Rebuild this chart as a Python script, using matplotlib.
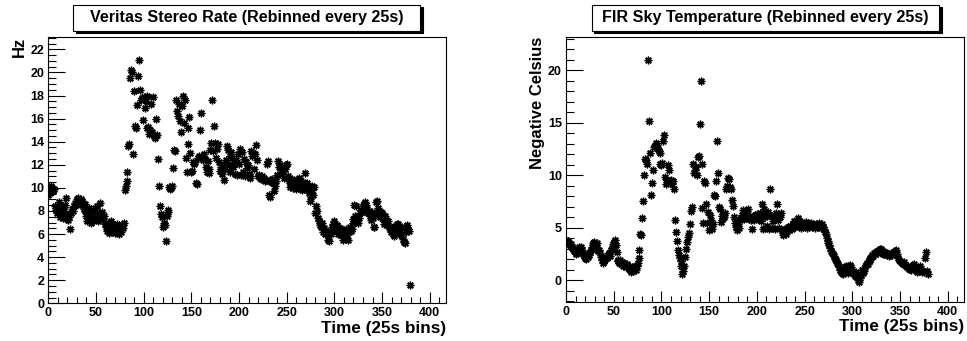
import numpy as np
import matplotlib
matplotlib.use("Agg")
import matplotlib.pyplot as plt
from matplotlib.patches import Rectangle
from matplotlib.ticker import MultipleLocator

plt.rcParams['font.family'] = ['Liberation Sans', 'DejaVu Sans']
plt.rcParams['font.weight'] = 'bold'

# Time bins (25 s each)
time_bins = np.arange(380)

# VERITAS stereo trigger rate per bin (Hz)
stereo_rate = [
    9.4, 9.8, 9.6, 10.2, 10.0, 9.7, 9.9, 8.4, 8.1, 7.8,
    8.2, 8.8, 7.5, 7.9, 8.3, 7.4, 8.0, 8.5, 7.7, 9.1,
    7.3, 7.2, 7.5, 6.4, 7.8, 8.2, 8.0, 8.4, 8.7, 8.5,
    9.0, 9.1, 8.8, 8.6, 9.0, 8.9, 8.5, 8.2, 8.6, 8.0,
    7.6, 7.1, 7.8, 8.3, 7.4, 7.0, 7.9, 8.1, 7.2, 8.3,
    7.5, 8.4, 7.1, 7.8, 8.7, 7.6, 7.9, 7.3, 7.6, 6.9,
    7.0, 6.6, 6.3, 6.9, 6.1, 6.5, 7.1, 6.2, 6.4, 6.8,
    6.1, 6.5, 6.9, 6.3, 6.0, 6.6, 6.2, 6.8, 6.5, 7.0,
    9.8, 10.2, 10.6, 11.4, 13.6, 13.8, 19.5, 20.2, 20.0, 12.9,
    18.4, 15.4, 15.2, 17.2, 19.7, 21.1, 18.5, 17.6, 17.8, 15.9,
    17.9, 16.9, 17.5, 18.0, 15.2, 15.3, 14.7, 15.0, 17.3, 14.8,
    17.9, 14.5, 14.3, 16.0, 14.6, 12.5, 10.2, 8.4, 7.7, 7.5,
    6.6, 7.0, 6.8, 5.4, 7.6, 7.9, 8.1, 10.1, 9.9, 10.0,
    10.2, 11.7, 13.3, 13.2, 17.6, 16.7, 16.2, 17.3, 15.8, 14.8,
    17.1, 18.0, 15.6, 17.6, 12.6, 11.4, 13.8, 15.2, 16.1, 13.0,
    11.4, 11.5, 12.2, 12.1, 12.2, 10.4, 10.3, 12.6, 12.8, 15.0,
    16.5, 12.7, 12.4, 12.9, 12.5, 11.8, 11.4, 12.3, 11.6, 11.3,
    13.3, 13.9, 17.6, 13.2, 15.4, 13.9, 12.6, 13.4, 13.8, 12.2,
    11.5, 11.8, 11.2, 12.0, 10.7, 11.6, 12.4, 13.6, 13.3, 12.0,
    12.8, 11.4, 13.1, 12.6, 11.8, 12.2, 11.2, 12.4, 11.1, 12.9,
    12.1, 13.4, 11.1, 13.1, 11.4, 12.5, 11.0, 12.2, 11.7, 12.0,
    11.2, 11.0, 10.9, 13.2, 12.8, 13.0, 11.6, 12.9, 13.7, 12.4,
    11.0, 11.1, 10.9, 10.8, 11.0, 10.8, 10.9, 10.6, 10.7, 12.1,
    12.3, 9.4, 9.2, 10.7, 10.5, 10.8, 10.4, 9.7, 10.2, 10.6,
    11.1, 12.3, 11.8, 12.0, 11.4, 11.2, 11.5, 10.9, 11.6, 12.0,
    12.1, 11.0, 10.6, 10.1, 10.4, 10.2, 10.8, 10.0, 10.5, 10.3,
    9.9, 10.2, 10.7, 10.9, 10.7, 10.1, 9.8, 10.5, 10.3, 11.3,
    10.0, 10.4, 9.9, 9.6, 8.9, 9.2, 10.2, 9.8, 9.4, 10.1,
    7.8, 8.4, 8.0, 7.4, 7.1, 6.8, 6.6, 7.0, 6.2, 6.5,
    6.0, 6.3, 6.1, 5.5, 5.4, 6.2, 6.0, 6.6, 6.9, 6.4,
    7.1, 6.5, 6.3, 6.8, 6.0, 6.2, 6.5, 5.9, 6.3, 5.5,
    6.1, 5.8, 6.4, 6.0, 5.5, 6.2, 6.6, 6.3, 6.4, 7.0,
    7.3, 8.5, 7.6, 8.4, 7.2, 7.0, 7.4, 7.8, 8.1, 7.9,
    8.4, 8.6, 8.8, 8.5, 8.2, 7.8, 8.0, 7.6, 7.2, 7.9,
    7.4, 6.6, 6.6, 7.7, 8.8, 8.9, 8.3, 7.8, 7.5, 7.9,
    7.8, 7.3, 6.9, 7.6, 7.2, 6.8, 7.1, 6.6, 6.4, 6.2,
    6.5, 6.0, 5.8, 6.2, 6.7, 6.4, 6.9, 6.9, 6.3, 6.0,
    5.9, 6.6, 5.6, 5.3, 5.2, 6.2, 6.8, 6.4, 6.3, 1.6,
]

# FIR sky temperature per bin (negative degrees Celsius)
sky_temp = [
    3.8, 3.6, 3.7, 3.5, 3.3, 3.4, 3.1, 3.0, 2.8, 3.0,
    2.6, 2.5, 2.8, 2.7, 3.2, 3.1, 3.2, 2.9, 2.5, 2.3,
    2.1, 2.0, 2.5, 2.2, 2.4, 2.7, 2.9, 3.2, 3.5, 3.6,
    3.4, 3.3, 3.5, 3.0, 2.8, 2.9, 2.6, 2.2, 1.9, 1.6,
    1.8, 2.0, 2.2, 2.1, 2.4, 2.6, 2.3, 2.9, 3.1, 3.4,
    3.6, 3.8, 3.3, 2.7, 1.9, 1.8, 1.6, 1.9, 1.5, 1.7,
    1.3, 1.6, 1.4, 1.2, 1.5, 1.3, 1.1, 1.0, 0.8, 1.2,
    0.9, 1.1, 1.3, 1.0, 1.3, 1.6, 2.1, 2.9, 4.4, 4.3,
    5.9, 7.5, 10.0, 11.5, 11.4, 11.1, 21.0, 15.2, 12.1, 8.1,
    9.3, 10.5, 12.7, 12.8, 13.1, 12.9, 12.5, 12.3, 12.1, 11.1,
    11.0, 11.2, 13.3, 13.8, 9.8, 9.2, 9.5, 11.0, 10.5, 9.4,
    9.5, 9.2, 9.4, 8.7, 5.7, 4.6, 3.7, 2.9, 2.4, 2.1,
    1.8, 1.3, 0.6, 0.9, 1.3, 2.2, 3.0, 3.6, 4.1, 4.5,
    5.3, 6.6, 7.0, 11.1, 10.2, 10.5, 10.8, 10.0, 11.7, 11.8,
    14.9, 19.0, 11.1, 6.9, 5.4, 9.4, 9.3, 7.3, 5.4, 6.5,
    4.8, 6.2, 5.7, 4.9, 5.3, 8.1, 8.0, 9.4, 13.3, 10.2,
    7.0, 6.8, 5.5, 6.1, 6.3, 5.9, 6.0, 6.4, 8.7, 9.0,
    9.7, 9.6, 8.9, 8.7, 7.6, 7.1, 6.0, 5.4, 5.1, 4.8,
    5.3, 5.0, 5.7, 5.9, 6.2, 6.7, 6.5, 5.8, 6.6, 5.9,
    6.3, 6.8, 5.8, 6.1, 5.7, 4.9, 6.0, 5.7, 6.2, 5.9,
    6.3, 5.8, 6.1, 6.4, 5.6, 7.3, 4.9, 6.8, 6.0, 5.0,
    6.3, 5.2, 6.5, 4.9, 8.7, 6.1, 5.0, 5.6, 6.0, 4.9,
    6.4, 7.3, 5.7, 5.0, 6.0, 6.4, 4.7, 4.3, 4.5, 4.9,
    4.4, 4.7, 5.0, 5.1, 4.8, 5.2, 5.0, 4.9, 5.3, 5.6,
    5.1, 5.4, 5.2, 5.9, 5.6, 5.3, 5.0, 5.5, 5.2, 5.3,
    5.2, 5.5, 5.0, 5.2, 5.4, 5.1, 5.3, 5.4, 5.1, 5.3,
    5.2, 5.0, 5.3, 5.2, 5.1, 5.4, 5.2, 5.0, 5.3, 5.1,
    4.9, 4.6, 4.4, 4.0, 3.7, 3.5, 3.3, 3.1, 2.8, 2.6,
    2.5, 2.3, 2.0, 1.9, 1.6, 1.5, 1.2, 1.0, 0.8, 0.7,
    0.6, 0.9, 1.2, 1.3, 1.0, 0.7, 1.1, 1.3, 1.4, 1.2,
    0.9, 0.8, 0.6, 0.4, 0.8, 0.3, 0.0, -0.15, 0.2, 0.5,
    0.95, 0.7, 0.9, 1.2, 1.4, 1.6, 1.5, 1.8, 1.9, 2.1,
    2.2, 2.4, 2.3, 2.6, 2.5, 2.7, 2.8, 2.6, 2.9, 3.0,
    3.0, 2.8, 2.5, 2.5, 2.7, 2.6, 2.4, 2.5, 2.3, 2.4,
    2.6, 2.5, 2.4, 2.6, 2.7, 2.8, 2.9, 2.5, 2.1, 1.9,
    1.8, 1.7, 1.6, 1.5, 1.7, 1.4, 1.3, 1.2, 1.3, 1.1,
    1.1, 1.0, 1.3, 1.2, 1.4, 1.5, 1.2, 1.0, 0.8, 0.9,
    1.1, 1.3, 1.0, 0.8, 0.9, 0.8, 2.1, 2.7, 0.9, 0.6,
]

titles = ["Veritas Stereo Rate (Rebinned every 25s)",
          "FIR Sky Temperature (Rebinned every 25s)"]
ylabels = ["Hz", "Negative Celsius"]
xlabel = "Time (25s bins)"

W, H = 967, 341
fig = plt.figure(figsize=(W / 100, H / 100), dpi=100)


def fx(px):
    return px / W


def fy(py):
    return 1 - py / H


panels = [
    dict(rect=[fx(48.3), fy(303.3), fx(446 - 48.3), (303.3 - 36.7) / H],
         y=stereo_rate, ylim=(0, 23.1), ymaj=2, ymin=0.5,
         box=(73.3, 5, 420.0, 30.5)),
    dict(rect=[fx(566), fy(301.7), fx(964 - 566), (301.7 - 36.7) / H],
         y=sky_temp, ylim=(-2.06, 23.2), ymaj=5, ymin=1,
         box=(591.7, 5, 939.0, 30.5)),
]

for i, p in enumerate(panels):
    ax = fig.add_axes(p["rect"])
    ax.plot(time_bins, p["y"], linestyle="none", marker=(8, 2, 0),
            markersize=5.5, markeredgewidth=1.0, color="black")
    ax.set_xlim(0, 417)
    ax.set_ylim(*p["ylim"])
    ax.xaxis.set_major_locator(MultipleLocator(50))
    ax.xaxis.set_minor_locator(MultipleLocator(10))
    ax.yaxis.set_major_locator(MultipleLocator(p["ymaj"]))
    ax.yaxis.set_minor_locator(MultipleLocator(p["ymin"]))
    ax.tick_params(axis="both", which="both", direction="in",
                   top=False, right=False, labelsize=9, width=0.8)
    ax.tick_params(axis="x", which="major", length=8, pad=3)
    ax.tick_params(axis="x", which="minor", length=4)
    ax.tick_params(axis="y", which="major", length=12, pad=3)
    ax.tick_params(axis="y", which="minor", length=6)
    for lab in ax.get_xticklabels() + ax.get_yticklabels():
        lab.set_fontweight("bold")
    for s in ax.spines.values():
        s.set_linewidth(0.8)

    # axis titles, ROOT style: placed at the far end of each axis
    ax.set_xlabel(xlabel, fontsize=12.3, fontweight="bold", loc="right",
                  labelpad=1)
    ax.set_ylabel(ylabels[i], fontsize=12, fontweight="bold", loc="top",
                  labelpad=2)

    # title pave with drop shadow
    x0, y0, x1, y1 = p["box"]
    shadow = Rectangle((fx(x0 + 2.5), fy(y1 + 2.5)), fx(x1 - x0),
                       (y1 - y0) / H, transform=fig.transFigure,
                       facecolor="black", edgecolor="black", lw=0.8)
    pave = Rectangle((fx(x0), fy(y1)), fx(x1 - x0), (y1 - y0) / H,
                     transform=fig.transFigure, facecolor="white",
                     edgecolor="black", lw=0.8)
    fig.patches.extend([shadow, pave])
    fig.text(fx((x0 + x1) / 2), fy((y0 + y1) / 2), titles[i],
             ha="center", va="center", fontsize=11.6, fontweight="bold")

fig.savefig("out.png", dpi=100)
